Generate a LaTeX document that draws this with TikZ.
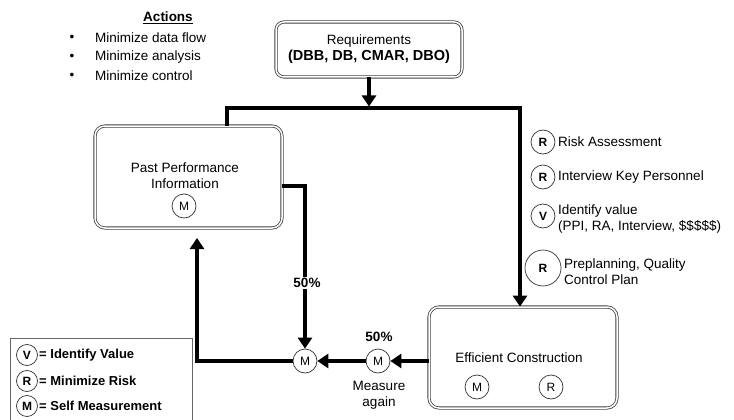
\documentclass[tikz,border=0pt]{standalone}
\usepackage{fontspec}
\setmainfont{Liberation Sans}
\usetikzlibrary{arrows.meta,calc}
\begin{document}
\begin{tikzpicture}[x=1pt,y=-1pt,
  font=\fontsize{13.5}{16}\selectfont,
  box/.style={draw=black!75, double=white, double distance=1.5pt, line width=0.8pt,
    rounded corners=10pt, inner sep=0pt},
  conn/.style={line width=3.5pt, line join=miter},
  arr/.style={conn, -{Triangle[length=11pt,width=14pt]}},
  circ/.style={circle, draw=black!80, line width=0.7pt, minimum size=24pt, inner sep=0pt,
    font=\fontsize{12}{12}\selectfont},
  circb/.style={circ, font=\fontsize{12}{12}\selectfont\bfseries},
  lab/.style={anchor=west, inner sep=0pt, align=left},
  leg/.style={circb, minimum size=21pt}
]
\useasboundingbox (0,0) rectangle (734,420);

% Actions
\node (act) at (168,18) {\bfseries\underline{Actions}};
\node (b1) at (72,38) {•};
\node (b2) at (72,57) {•};
\node (b3) at (72,76) {•};
\node[lab] (t1) at (95,38) {Minimize data flow};
\node[lab] (t2) at (95,57) {Minimize analysis};
\node[lab] (t3) at (95,76) {Minimize control};

% Requirements
\node[box, rounded corners=8pt, minimum width=186pt, minimum height=55pt, align=center]
  (req) at (369,49.5) {Requirements\\\bfseries\fontsize{14.5}{17}\selectfont (DBB, DB, CMAR, DBO)};

% Past performance
\node[box, minimum width=187pt, minimum height=102pt] (ppi) at (188.5,177) {};
\node[align=center] (ppit) at (185,176) {Past Performance\\Information};
\node[circ] (pm) at (184,206) {M};

% Efficient construction
\node[box, minimum width=188pt, minimum height=101pt] (ec) at (523,357.5) {};
\node (ect) at (519,358) {Efficient Construction};
\node[circ] (em) at (477,387) {M};
\node[circ] (er) at (551,387) {R};

% Measurement nodes
\node[circ] (m1) at (305,361) {M};
\node[circ] (m2) at (378,361) {M};
\node[font=\fontsize{13.5}{16}\selectfont\bfseries] (p2) at (379,337) {50\%};
\node[align=center, font=\fontsize{13.5}{16}\selectfont] (ma) at (379,395) {Measure\\again};

% connectors
\coordinate (hl) at (227,108);
\coordinate (hr) at (520,108);
\draw[arr] (ppi.north -| hl) -- (hl) -- (hr) -- (ec.north -| hr);
\draw[arr] (req.south) -- ($(req.south |- hl)+(0,-1.5)$);
\draw[arr] ($(ppi.east)+(0,9)$) -| (m1.north);
\node[fill=white, inner sep=1pt, font=\fontsize{13.5}{16}\selectfont\bfseries] (p1) at (307,283) {50\%};
\draw[arr] (m2.west) -- (m1.east);
\draw[arr] (ec.west |- m2) -- (m2.east);
\coordinate (ret) at (197,238);
\draw[arr] (m1.west) -| (ret);

% right annotations
\node[circb] (a1) at (543,142) {R};
\node[lab] (a1t) at (558,142) {Risk Assessment};
\node[circb] (a2) at (543,177) {R};
\node[lab] (a2t) at (558,177) {Interview Key Personnel};
\node[circb] (a3) at (543,216) {V};
\node[lab] (a3t) at (558,219) {Identify value\\(PPI, RA, Interview, \$\$\$\$\$)};
\node[circb, minimum size=36pt] (a4) at (543,268) {R};
\node[lab] (a4t) at (564,272) {Preplanning, Quality\\Control Plan};

% legend
\draw[draw=black!60, line width=0.7pt] (10,425) -- (10,338) -- (192,338) -- (192,425);
\node[leg] (l1) at (27,355) {V};
\node[leg] (l2) at (27,381) {R};
\node[leg] (l3) at (27,406) {M};
\node[lab, font=\fontsize{13}{16}\selectfont\bfseries] (l1t) at (39,355) {= Identify Value};
\node[lab, font=\fontsize{13}{16}\selectfont\bfseries] (l2t) at (39,381) {= Minimize Risk};
\node[lab, font=\fontsize{13}{16}\selectfont\bfseries] (l3t) at (39,406) {= Self Measurement};
\end{tikzpicture}
\end{document}
